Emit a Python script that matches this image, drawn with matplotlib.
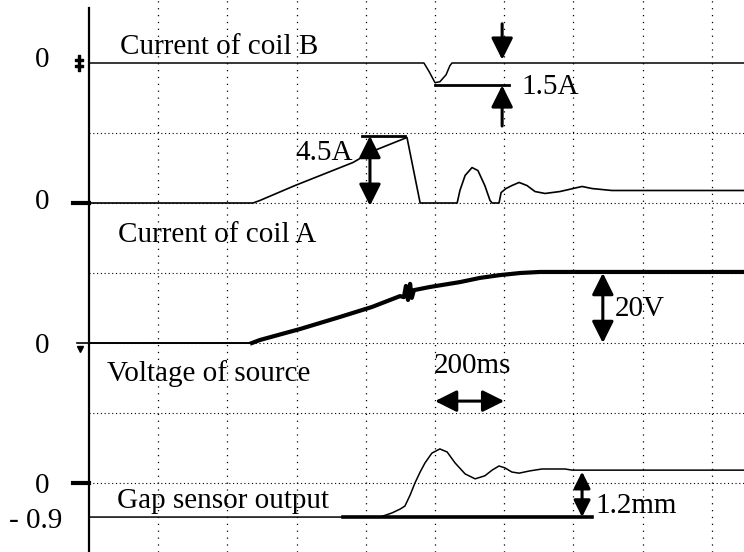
import matplotlib.pyplot as plt

plt.rcParams['font.family'] = ['Liberation Serif', 'DejaVu Serif']

# time in ms (200 ms per division)
t_coilB = [0, 968, 983, 1000, 1014, 1032, 1043, 1049, 1893]
i_coilB = [0, 0, -0.58, -1.32, -1.26, -0.79, -0.18, 0, 0]

t_coilA = [0, 474, 494, 595, 763, 818, 919, 957, 1064, 1072, 1087, 1107, 1124,
           1144, 1159, 1165, 1185, 1191, 1205, 1222, 1243, 1266, 1289, 1318,
           1361, 1425, 1454, 1511, 1893]
i_coilA = [0, 0, 0.17, 1.17, 2.72, 3.46, 4.40, 0, 0, 0.84, 1.85, 2.38, 2.18,
           1.17, 0.17, 0, 0, 0.70, 0.97, 1.17, 1.38, 1.17, 0.77, 0.64,
           0.77, 1.11, 0.97, 0.84, 0.84]

t_volt = [0, 471, 494, 610, 725, 818, 899, 910, 916, 922, 928, 933, 939, 985,
          1072, 1130, 1188, 1246, 1303, 1477, 1893]
v_volt = [0, 0, 0.86, 4.0, 7.43, 10.3, 13.4, 13.1, 16.3, 12.3, 16.9, 12.9, 15.1,
          16.0, 17.4, 18.6, 19.4, 20.0, 20.3, 20.3, 20.3]

t_gap = [0, 841, 876, 899, 913, 928, 942, 957, 971, 991, 1014, 1035, 1058, 1087,
         1116, 1144, 1165, 1185, 1202, 1222, 1243, 1274, 1309, 1376, 1396, 1893]
d_gap = [-0.90, -0.90, -0.79, -0.69, -0.61, -0.32, 0, 0.29, 0.53, 0.79, 0.90,
         0.82, 0.53, 0.24, 0.11, 0.19, 0.34, 0.45, 0.40, 0.29, 0.26, 0.32, 0.37,
         0.37, 0.34, 0.34]

# screen offsets (divisions) and scales (units per division)
offB, scB = 7, 4.7
offA, scA = 5, 4.7
offV, scV = 3, 20.0
offG, scG = 1, 1.85

def toDiv(vals, off, sc):
    return [off + v / sc for v in vals]

fig = plt.figure(figsize=(7.44, 5.52), dpi=100)
ax = fig.add_axes([89/744, 0, 655/744, 1])
ax.set_xlim(0, 1893)
ax.set_ylim(1/70, 553/70)
for s in ['top', 'right', 'bottom']:
    ax.spines[s].set_visible(False)
ax.spines['left'].set_linewidth(1.6)
ax.spines['left'].set_bounds(1/70, 545/70)
ax.set_xticks([])
ax.set_yticks([])

# grid
for x in range(200, 1900, 200):
    ax.axvline(x, color='k', lw=0.9, ls=(0, (1, 4.5)), zorder=0)
for y in range(1, 7):
    ax.axhline(y, color='k', lw=0.8, ls=(0, (1, 2.4)), zorder=0)

# traces
ax.plot(t_coilB, toDiv(i_coilB, offB, scB), color='k', lw=1.1)
ax.plot(t_coilA, toDiv(i_coilA, offA, scA), color='k', lw=1.2)
yV = toDiv(v_volt, offV, scV)
ax.plot(t_volt[:2], yV[:2], color='k', lw=1.4)
ax.plot(t_volt[1:], yV[1:], color='k', lw=3.0)
ax.plot(t_gap, toDiv(d_gap, offG, scG), color='k', lw=1.1)

fs = 21
ax.text(90, 7.23, 'Current of coil B', fontsize=fs, va='center')
ax.text(84, 4.54, 'Current of coil A', fontsize=fs, va='center')
ax.text(52, 2.57, 'Voltage of source', fontsize=fs, va='center')
ax.text(81, 0.74, 'Gap sensor output', fontsize=fs, va='center')

# y labels at left
yt = ax.get_yaxis_transform()
for y in [7.043, 5.014, 2.957, 0.957]:
    ax.text(-0.061, y, '0', fontsize=fs, ha='right', va='center', transform=yt)
ax.text(-0.040, 0.457, '- 0.9', fontsize=fs, ha='right', va='center', transform=yt)
for y in [offA, offG]:
    ax.plot([-0.0244, 0], [y, y], color='k', lw=3, transform=yt, clip_on=False)
ax.plot([-0.016], [offB], marker='$\\ddagger$', color='k', ms=11,
        transform=yt, clip_on=False)
ax.plot([-0.018, 0], [offV, offV], color='k', lw=1.2, transform=yt, clip_on=False)
ax.plot([-0.014], [offV - 0.08], marker='v', color='k', ms=5,
        transform=yt, clip_on=False)

arr = dict(arrowstyle='-|>,head_length=0.4,head_width=0.2', color='k', lw=2.2,
           mutation_scale=33, shrinkA=0, shrinkB=0)
arr2 = dict(arr, arrowstyle='<|-|>,head_length=0.4,head_width=0.2')

# 1.5A marker on coil B
yB = offB - 1.5 / scB
ax.plot([1000, 1214], [yB, yB], color='k', lw=2.0)
ax.annotate('', xy=(1194, 7.047), xytext=(1194, 7.56), arrowprops=arr)
ax.annotate('', xy=(1194, yB), xytext=(1194, 6.10), arrowprops=arr)
ax.text(1251, 6.66, '1.5A', fontsize=fs, va='center')

# 4.5A marker on coil A
yA = offA + 4.5 / scA
ax.plot([789, 913], [yA, yA], color='k', lw=2.0)
ax.annotate('', xy=(812, yA), xytext=(812, offA - 0.04), arrowprops=arr2)
ax.text(595, 5.71, '4.5A', fontsize=fs, va='center')

# 20V
ax.annotate('', xy=(1485, offV + 20 / scV), xytext=(1485, offV), arrowprops=arr2)
ax.text(1520, 3.48, '20V', fontsize=fs, va='center')

# 200ms
ax.annotate('', xy=(1200, 2.17), xytext=(1000, 2.17), arrowprops=arr2)
ax.text(997, 2.67, '200ms', fontsize=fs, va='center')

# 1.2mm
yG0 = offG - 0.9 / scG
ax.plot([734, 1454], [yG0, yG0], color='k', lw=2.6)
ax.annotate('', xy=(1425, offG + 0.3 / scG), xytext=(1425, yG0),
            arrowprops=dict(arr2, mutation_scale=25))
ax.text(1465, 0.67, '1.2mm', fontsize=fs, va='center')

fig.savefig('out.png', dpi=100)
